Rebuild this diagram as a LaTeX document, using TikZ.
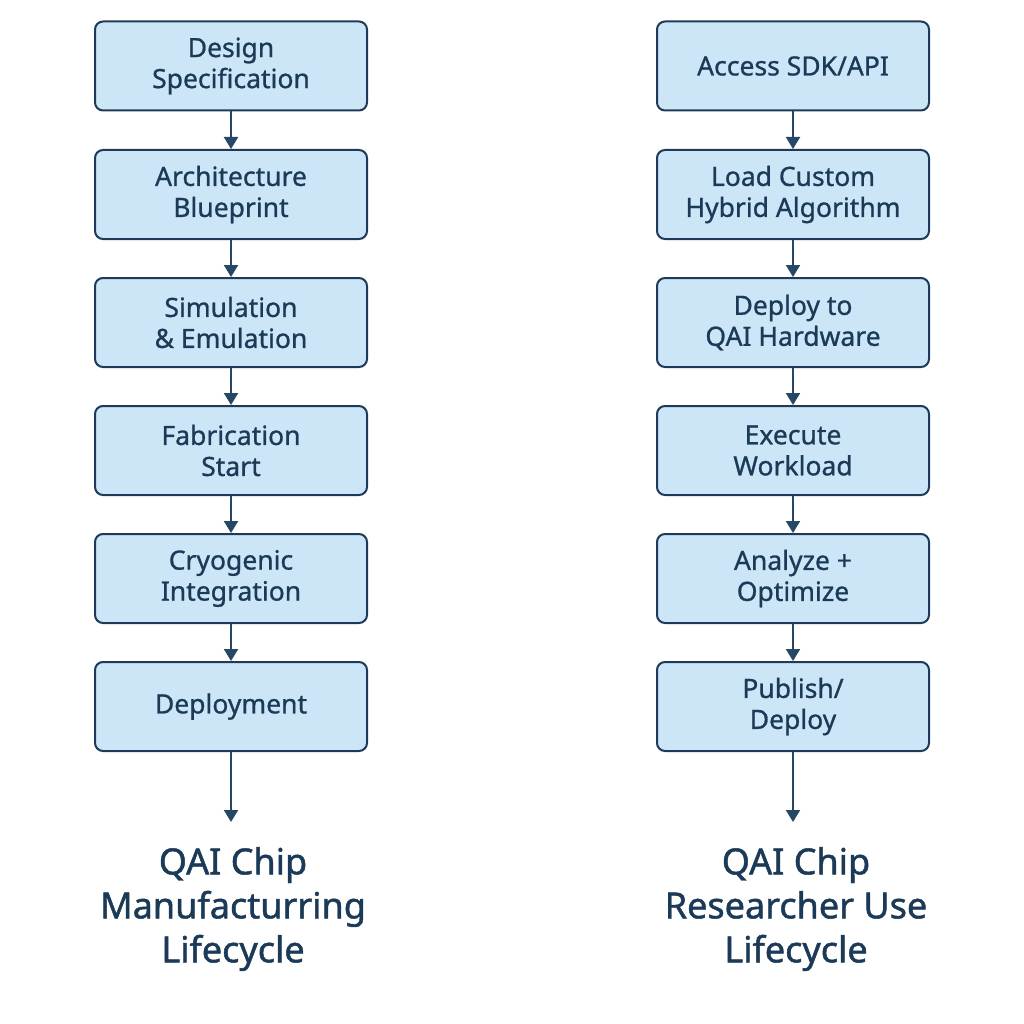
\documentclass[tikz,border=0pt]{standalone}
\usepackage{fontspec}
\setmainfont{Noto Sans}
\newfontfamily\medfont{Noto Sans}[FakeBold=0.9]
\newfontfamily\titlefont{Noto Sans}[FakeBold=1.3]
\usetikzlibrary{arrows.meta}
\definecolor{boxfill}{HTML}{CDE6F7}
\definecolor{boxline}{HTML}{1E3A56}
\definecolor{txt}{HTML}{1B3A57}
\definecolor{arr}{HTML}{264766}
\tikzset{
  stepbox/.style={draw=boxline, fill=boxfill, line width=2pt, rounded corners=8pt,
    minimum width=272pt, minimum height=89pt, align=center, text=txt,
    font=\medfont\fontsize{26.5}{31}\selectfont, inner sep=0pt,
    execute at begin node={\vspace*{4pt}}},
  flow/.style={draw=arr, line width=2pt, -{Triangle[length=12pt,width=14pt]}},
  title/.style={align=center, text=txt, font=\titlefont\fontsize{36}{44}\selectfont, inner sep=0pt}
}
\begin{document}
\begin{tikzpicture}[x=1pt,y=-1pt]
\useasboundingbox (0,0) rectangle (1024,1024);
% left column
\node[stepbox] (l1) at (231,66) {Design\\Specification};
\node[stepbox] (l2) at (231,194.5) {Architecture\\Blueprint};
\node[stepbox] (l3) at (231,322.5) {Simulation\\\& Emulation};
\node[stepbox] (l4) at (231,450.5) {Fabrication\\Start};
\node[stepbox] (l5) at (231,578.5) {Cryogenic\\Integration};
\node[stepbox] (l6) at (231,706.5) {Deployment};
\coordinate (lend) at (231,822);
\node[title] (lt) at (233,909) {QAI Chip\\Manufacturring\\Lifecycle};
% right column
\node[stepbox] (r1) at (793,66) {Access SDK/API};
\node[stepbox] (r2) at (793,194.5) {Load Custom\\Hybrid Algorithm};
\node[stepbox] (r3) at (793,322.5) {Deploy to\\QAI Hardware};
\node[stepbox] (r4) at (793,450.5) {Execute\\Workload};
\node[stepbox] (r5) at (793,578.5) {Analyze +\\Optimize};
\node[stepbox] (r6) at (793,706.5) {Publish/\\Deploy};
\coordinate (rend) at (793,822);
\node[title] (rt) at (796,909) {QAI Chip\\Researcher Use\\Lifecycle};
% arrows
\foreach \a/\b in {l1/l2,l2/l3,l3/l4,l4/l5,l5/l6,r1/r2,r2/r3,r3/r4,r4/r5,r5/r6}
  \draw[flow] (\a.south) -- (\b.north);
\draw[flow] (l6.south) -- (lend);
\draw[flow] (r6.south) -- (rend);
\end{tikzpicture}
\end{document}
